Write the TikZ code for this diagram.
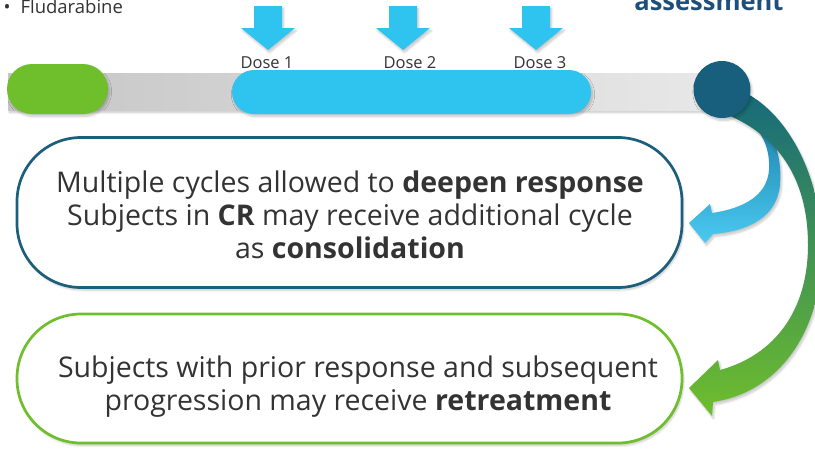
\documentclass[tikz,border=0pt]{standalone}
\usepackage{fontspec}
\setmainfont{Open Sans}
\usepackage{xcolor}
\usetikzlibrary{shapes.geometric, positioning, calc, shadows.blur}

\definecolor{txtGray}{HTML}{333333}
\definecolor{condGreen}{HTML}{6FBE2C}
\definecolor{doseBlue}{HTML}{2EC4EF}
\definecolor{assessNavy}{HTML}{185E7D}
\definecolor{boxNavy}{HTML}{1C5F7D}
\definecolor{titleNavy}{HTML}{1E4F7A}
\definecolor{trackDark}{HTML}{C6C6C6}
\definecolor{trackLight}{HTML}{E8E8E8}
\definecolor{loopTeal}{HTML}{166A7A}
\definecolor{loopMid}{HTML}{2C8A5C}
\definecolor{cycleTop}{HTML}{1E82AA}
\definecolor{cycleBottom}{HTML}{4ACAF2}

\tikzset{
    % Shadows
    softshadow/.style={blur shadow={shadow xshift=1.5pt, shadow yshift=-2.5pt,
                       shadow blur steps=6, shadow opacity=22}},
    % Timeline
    track/.style={rectangle, inner sep=0pt, minimum width=712pt, minimum height=37pt,
                  left color=trackDark, right color=trackLight, softshadow},
    pill/.style={rectangle, inner sep=0pt, rounded corners=22pt, softshadow},
    doselbl/.style={anchor=base, text=txtGray, font=\fontsize{16.5}{19}\selectfont},
    % Boxes
    phasebox/.style={rectangle, rounded corners=64pt, line width=2.7pt, fill=white,
                     minimum width=665pt, inner sep=0pt, softshadow},
    boxtext/.style={align=center, text=txtGray, inner sep=0pt,
                    font=\fontsize{28.5}{33}\selectfont},
    % Curved arrows
    cyclearrow/.style={top color=cycleTop, bottom color=cycleBottom, softshadow},
    retreatarrow/.style={top color=loopTeal, middle color=loopMid, bottom color=condGreen, softshadow}
}

\begin{document}
\begin{tikzpicture}[x=1pt, y=-1pt]
\useasboundingbox (0,0) rectangle (815,448);
\clip (0,0) rectangle (815,448);

% headings
\node[anchor=base west, text=txtGray, font=\fontsize{18.5}{22}\selectfont] (fluda) at (17,13)
    {\llap{\textbullet\hspace{10pt}}Fludarabine};
\node[anchor=base east, text=titleNavy, font=\bfseries\fontsize{25.5}{30}\selectfont] (assesstitle) at (787,10)
    {assessment};

% timeline
\node[track] (track) at (364,91.5) {};
\node[pill, fill=condGreen, minimum width=101pt, minimum height=50pt, rounded corners=25pt] (cond) at (57.5,89) {};
\node[pill, fill=doseBlue, minimum width=359pt, minimum height=44pt] (dosing) at (411.5,92) {};

% dose arrows
\foreach \x/\lx/\n in {268/267/1, 403/410/2, 536/540/3} {
    \fill[doseBlue, softshadow] (\x-14,6) -- (\x+14,6) -- (\x+14,28) -- (\x+27,28)
        -- (\x,50) -- (\x-27,28) -- (\x-14,28) -- cycle;
    \node[doselbl] (dose\n) at (\lx,68) {Dose \n};
}

% boxes
\node[phasebox, draw=boxNavy, minimum height=150pt] (deepen) at (349.5,212.5) {};
\node[phasebox, draw=condGreen, minimum height=129pt] (retreat) at (349.5,378.5) {};

\node[boxtext] (deepentxt) at (350,215)
    {Multiple cycles allowed to \textbf{deepen response}\\
     Subjects in \textbf{CR} may receive additional cycle\\
     as \textbf{consolidation}};
\node[boxtext] (retreattxt) at (358,387)
    {Subjects with prior response and subsequent\\
     progression may receive \textbf{retreatment}};

% loop back to more cycles
\path[cyclearrow] (758,120) .. controls (776,136) and (782,160) .. (780,185)
    .. controls (777,216) and (750,231) .. (713,234) -- (705,243) -- (689,223)
    -- (710,204) -- (712,213) .. controls (745,208) and (767,195) .. (769,170)
    .. controls (770,150) and (764,134) .. (748,120) -- cycle;

% loop down to retreatment
\path[retreatarrow] (744,92) .. controls (790,115) and (822,180) .. (822,250)
    .. controls (822,330) and (780,392) .. (713,402) -- (712,416) -- (689,388)
    -- (718,360) -- (720,370) .. controls (775,355) and (808,310) .. (808,245)
    .. controls (808,175) and (775,135) .. (728,115) -- cycle;

% assessment point
\node[circle, fill=assessNavy, minimum size=57pt, inner sep=0pt, softshadow] (assess) at (722,89.5) {};

\end{tikzpicture}
\end{document}
